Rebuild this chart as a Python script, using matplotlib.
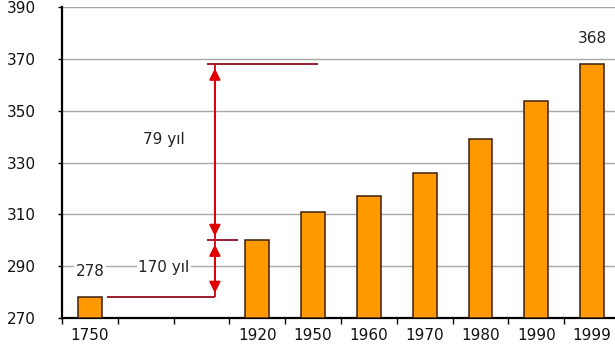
import numpy as np
import matplotlib.pyplot as plt

# Atmospheric CO2 (ppm) by year; two empty slots separate 1750 from 1920
years = ['1750', '', '', '1920', '1950', '1960', '1970', '1980', '1990', '1999']
co2 = [278, np.nan, np.nan, 300, 311, 317, 326, 339, 354, 368]
labeled_years = ['1750', '1999']
y_ticks = [270, 290, 310, 330, 350, 370, 390]

# Span annotations: (from value, to value, caption, caption height)
spans = [(300, 368, '79 yıl', 339), (278, 300, '170 yıl', 289.5)]

plt.rcParams['font.family'] = ['DejaVu Sans']
FS = 11

fig = plt.figure(figsize=(6.15, 3.56), dpi=100)
ax = fig.add_axes([62 / 615, 38 / 356, 558 / 615, 310.7 / 356])

x = np.arange(len(years))
vals = np.array(co2, dtype=float)
mask = ~np.isnan(vals)
ax.bar(x[mask], vals[mask] - y_ticks[0], bottom=y_ticks[0], width=0.43,
       color='#ff9900', edgecolor='#3a1f0a', linewidth=1.1, zorder=3)

ax.set_xlim(-0.5, len(years) - 0.5)
ax.set_ylim(y_ticks[0], y_ticks[-1])
ax.set_yticks(y_ticks)
ax.set_yticklabels([str(v) for v in y_ticks], fontsize=FS, color='#111111')
ax.yaxis.grid(True, color='#a8a8a8', linewidth=1.0, zorder=0)
ax.set_axisbelow(True)

# category labels centred on bars, tick marks on slot boundaries
ax.set_xticks(np.arange(len(years) + 1) - 0.5)
ax.set_xticklabels([])
ax.set_xticks(x, minor=True)
ax.set_xticklabels(years, minor=True, fontsize=FS, color='#111111')
ax.tick_params(axis='x', which='minor', length=0, pad=7)
ax.tick_params(axis='x', which='major', length=4, width=1, direction='out', color='black')
ax.tick_params(axis='y', length=3, width=1, pad=16, color='black')

for side in ('top', 'right'):
    ax.spines[side].set_visible(False)
for side in ('left', 'bottom'):
    ax.spines[side].set_linewidth(1.6)
    ax.spines[side].set_color('black')

# value labels above selected bars
for yr, v in zip(years, co2):
    if yr in labeled_years:
        i = years.index(yr)
        ax.annotate(f'{v:g}', (i, v), xytext=(0, 18.5), textcoords='offset points',
                    ha='center', va='center', fontsize=FS, color='#222222',
                    bbox=dict(boxstyle='square,pad=0.1', fc='white', ec='none'), zorder=5)

# span markers
red = '#d0101e'
dark = '#9b1b30'
xv = 2.24
ax.hlines(368, 2.10, 4.09, color=dark, lw=1.4, zorder=4)
ax.hlines(300, 2.10, 2.65, color=dark, lw=1.4, zorder=4)
ax.hlines(278, 0.31, xv, color=dark, lw=1.4, zorder=4)
ax.vlines(xv, 278, 368, color=red, lw=1.4, zorder=4)
for lo, hi, txt, ty in spans:
    ax.annotate('', xy=(xv, hi), xytext=(xv, lo),
                arrowprops=dict(arrowstyle='<|-|>,head_length=0.7,head_width=0.35',
                                color='#e00000', lw=1.2, shrinkA=3, shrinkB=3), zorder=5)
    ax.text(1.33, ty, txt, ha='center', va='center', fontsize=FS, color='#222222',
            bbox=dict(boxstyle='square,pad=0.1', fc='white', ec='none'), zorder=5)

fig.savefig('out.png', dpi=100)
